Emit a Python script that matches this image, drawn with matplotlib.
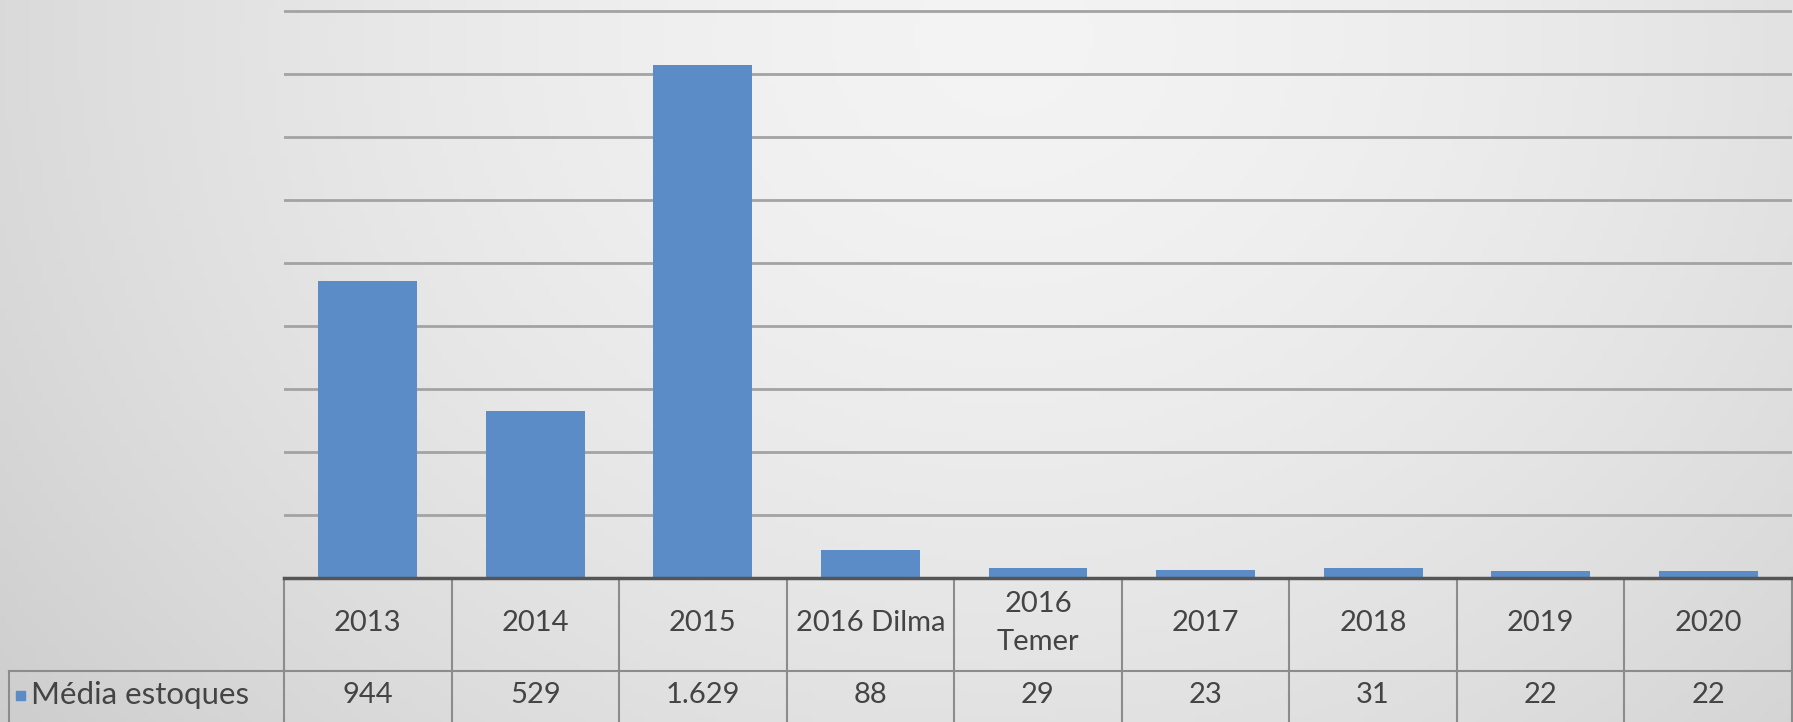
import numpy as np
import matplotlib
matplotlib.use("Agg")
import matplotlib.pyplot as plt

categories = ["2013", "2014", "2015", "2016 Dilma", "2016\nTemer", "2017", "2018", "2019", "2020"]
media_estoques = [944, 529, 1629, 88, 29, 23, 31, 22, 22]
series_name = "Média estoques"
y_ticks = list(range(0, 1801, 200))

plt.rcParams['font.family'] = ['Lato', 'DejaVu Sans']

W, H = 1793, 722
fig = plt.figure(figsize=(W / 100, H / 100), dpi=100)

# soft grey gradient background like the Excel chart area
bg = fig.add_axes([0, 0, 1, 1], zorder=-10)
xx, yy = np.meshgrid(np.linspace(0, 1, 300), np.linspace(0, 1, 120))
d = np.sqrt(((xx - 0.56) / 0.75) ** 2 + ((yy - 0.05) / 1.6) ** 2)
shade = 0.955 - 0.16 * np.clip(d, 0, 1.2) ** 1.6
bg.imshow(np.dstack([shade] * 3), extent=[0, 1, 0, 1], aspect='auto', origin='upper')
bg.axis('off')

# plot area position (pixels)
left_px, right_px = 284, 1792
axis_px, top_px = 577.5, 2
ax = fig.add_axes([left_px / W, (H - axis_px) / H,
                   (right_px - left_px) / W, (axis_px - top_px) / H])
ax.set_facecolor('none')

x = np.arange(len(categories))
ax.bar(x, media_estoques, width=0.59, color='#5b8cc8', zorder=3)

ax.set_xlim(-0.5, len(categories) - 0.5)
ax.set_ylim(0, 1830)
ax.set_yticks(y_ticks)
ax.set_yticklabels([])
ax.set_xticks([])
ax.tick_params(length=0)
ax.yaxis.grid(True, color='#a3a3a3', linewidth=2.0, zorder=0)
for s in ['top', 'right', 'left']:
    ax.spines[s].set_visible(False)
ax.spines['bottom'].set_color('#555555')
ax.spines['bottom'].set_linewidth(2.5)
ax.spines['bottom'].set_zorder(4)

# data table under the plot
ax_h = axis_px - top_px
row1 = -93.5 / ax_h
row2 = -160 / ax_h
leg_left = (9 - left_px) / (right_px - left_px)
tx = ax.get_xaxis_transform()
line_kw = dict(color='#8c8c8c', linewidth=1.5, clip_on=False)

for b in np.arange(-0.5, len(categories), 1.0):
    ax.plot([b, b], [0, row2], transform=tx, **line_kw)
ax.plot([leg_left, 1], [row1, row1], transform=ax.transAxes, **line_kw)
ax.plot([leg_left, leg_left], [row1, row2], transform=ax.transAxes, **line_kw)

txt_color = '#444444'
for i, (cat, v) in enumerate(zip(categories, media_estoques)):
    ax.text(i, -0.079, cat, transform=tx, ha='center', va='center',
            fontsize=21, color=txt_color, linespacing=1.6)
    ax.text(i, -0.205, f"{v:,}".replace(',', '.'), transform=tx,
            ha='center', va='center', fontsize=21, color=txt_color)

sq = 9 / (right_px - left_px)
ax.add_patch(plt.Rectangle(((16 - left_px) / (right_px - left_px), -0.205 - 0.008),
                           sq, 0.016, transform=ax.transAxes,
                           color='#5b8cc8', clip_on=False))
ax.text((31 - left_px) / (right_px - left_px), -0.205, series_name,
        transform=ax.transAxes, ha='left', va='center', fontsize=22.5, color=txt_color)

fig.savefig('out.png', dpi=100)
